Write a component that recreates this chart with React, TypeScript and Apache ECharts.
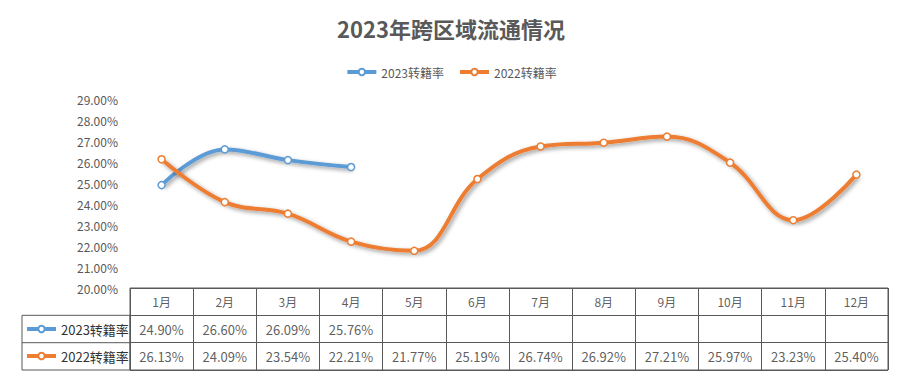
import React, { useEffect, useRef } from 'react';
import * as echarts from 'echarts';

const months = ['1月', '2月', '3月', '4月', '5月', '6月', '7月', '8月', '9月', '10月', '11月', '12月'];
const seriesNames = ['2023转籍率', '2022转籍率'];
const rate2023: (number | null)[] = [24.9, 26.6, 26.09, 25.76, null, null, null, null, null, null, null, null];
const rate2022: (number | null)[] = [26.13, 24.09, 23.54, 22.21, 21.77, 25.19, 26.74, 26.92, 27.21, 25.97, 23.23, 25.4];
const yMin = 20;
const yMax = 29;
const yInterval = 1;
const tableRows = ['header', seriesNames[0], seriesNames[1]];

const colors = ['#5B9BD5', '#ED7D31'];
const FONT = '"Noto Sans CJK SC", "Noto Sans", sans-serif';

export default function App() {
  const ref = useRef<HTMLDivElement>(null);
  useEffect(() => {
    if (!ref.current) return;
    const chart = echarts.init(ref.current, null, { renderer: 'svg' });
    const lineSeries = [rate2023, rate2022].map((d, i) => ({
      name: seriesNames[i],
      type: 'line',
      xAxisIndex: 0,
      yAxisIndex: 0,
      data: d,
      smooth: 0.4,
      connectNulls: false,
      symbol: 'circle',
      symbolSize: 7,
      showSymbol: true,
      lineStyle: {
        width: 4,
        color: colors[i],
        shadowColor: 'rgba(0,0,0,0.4)',
        shadowBlur: 4,
        shadowOffsetX: 2,
        shadowOffsetY: 2,
      },
      itemStyle: { color: '#fff', borderColor: colors[i], borderWidth: 1.5 },
      z: 3,
    }));
    const headerSeries = {
      type: 'scatter',
      xAxisIndex: 1,
      yAxisIndex: 1,
      symbolSize: 1,
      itemStyle: { color: 'rgba(0,0,0,0)' },
      silent: true,
      data: months.map((m) => [m, tableRows[0], m]),
      label: {
        show: true,
        position: 'inside',
        formatter: (p: any) => p.value[2],
        color: '#333',
        fontSize: 12,
        fontFamily: FONT,
      },
    };
    const valueSeries = [rate2023, rate2022].map((d, i) => ({
      type: 'scatter',
      xAxisIndex: 1,
      yAxisIndex: 1,
      symbolSize: 1,
      itemStyle: { color: 'rgba(0,0,0,0)' },
      silent: true,
      data: d
        .map((v, j) => (v == null ? null : [months[j], tableRows[i + 1], v]))
        .filter((x) => x !== null),
      label: {
        show: true,
        position: 'inside',
        formatter: (p: any) => (p.value[2] as number).toFixed(2) + '%',
        color: '#333',
        fontSize: 13,
        fontFamily: FONT,
      },
    }));

    chart.setOption({
      animation: false,
      textStyle: { fontFamily: FONT },
      title: {
        text: '2023年跨区域流通情况',
        left: 'center',
        top: 12,
        textStyle: { fontSize: 22, fontWeight: 'bold', color: '#595959', fontFamily: FONT },
      },
      legend: [
        {
          data: seriesNames,
          top: 66,
          left: 'center',
          padding: 0,
          itemWidth: 29,
          itemHeight: 8,
          itemGap: 14,
          lineStyle: { width: 4 },
          textStyle: { fontSize: 12, color: '#595959', fontFamily: FONT },
        },
        {
          data: seriesNames,
          orient: 'vertical',
          left: 25,
          top: 322,
          padding: 0,
          itemWidth: 29,
          itemHeight: 8,
          itemGap: 13,
          lineStyle: { width: 4 },
          textStyle: { fontSize: 13, color: '#333', lineHeight: 14, fontFamily: FONT },
          selectedMode: false,
        },
      ],
      grid: [
        { left: 130, right: 14, top: 99, height: 189, containLabel: false },
        {
          left: 130,
          right: 14,
          top: 288,
          height: 82,
          show: true,
          borderColor: '#595959',
          borderWidth: 1,
          backgroundColor: 'transparent',
        },
      ],
      xAxis: [
        {
          gridIndex: 0,
          type: 'category',
          data: months,
          boundaryGap: true,
          axisLine: { show: false },
          axisTick: { show: false },
          axisLabel: { show: false },
          splitLine: { show: false },
        },
        {
          gridIndex: 1,
          type: 'category',
          data: months,
          boundaryGap: true,
          axisLine: { show: false },
          axisTick: { show: false },
          axisLabel: { show: false },
          splitLine: { show: true, lineStyle: { color: '#595959', width: 1 } },
        },
      ],
      yAxis: [
        {
          gridIndex: 0,
          type: 'value',
          min: yMin,
          max: yMax,
          interval: yInterval,
          axisLine: { show: false },
          axisTick: { show: false },
          splitLine: { show: false },
          axisLabel: {
            formatter: (v: number) => v.toFixed(2) + '%',
            color: '#595959',
            fontSize: 12,
            margin: 12,
            fontFamily: FONT,
          },
        },
        {
          gridIndex: 1,
          type: 'category',
          data: tableRows,
          inverse: true,
          axisLine: { show: false },
          axisTick: { show: false },
          axisLabel: { show: false },
          splitLine: { show: true, lineStyle: { color: '#595959', width: 1 } },
        },
      ],
      graphic: [
        {
          type: 'rect',
          shape: { x: 22, y: 315.3, width: 108, height: 54.7 },
          style: { fill: 'none', stroke: '#595959', lineWidth: 1 },
          silent: true,
        },
        {
          type: 'line',
          shape: { x1: 22, y1: 342.7, x2: 130, y2: 342.7 },
          style: { stroke: '#595959', lineWidth: 1 },
          silent: true,
        },
      ],
      series: [...lineSeries, headerSeries, ...valueSeries],
    });
    return () => chart.dispose();
  }, []);
  return (
    <div
      ref={ref}
      style={{ position: 'absolute', left: 0, top: 0, width: 902, height: 377, background: '#fff' }}
    />
  );
}
